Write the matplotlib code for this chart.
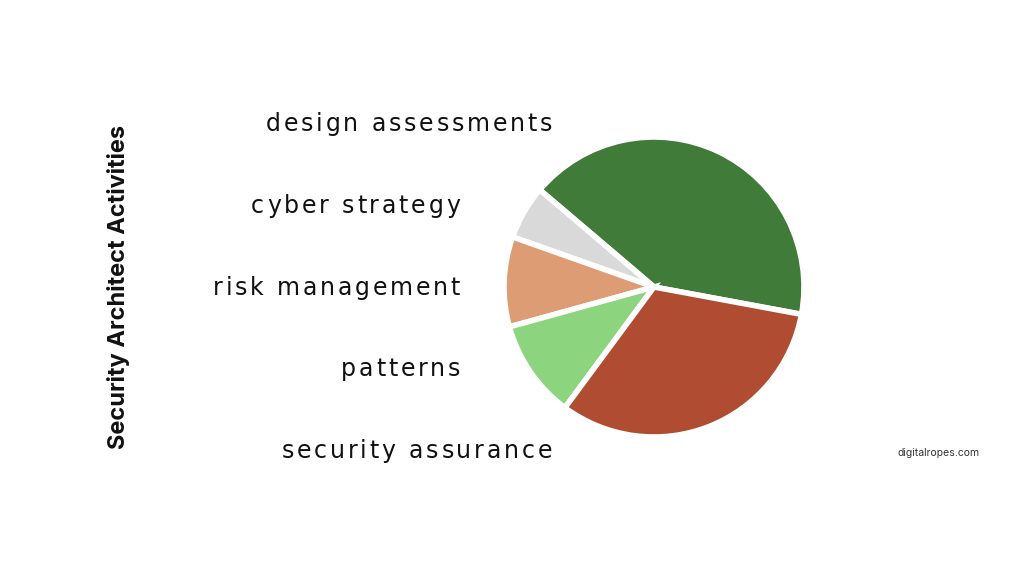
import matplotlib.pyplot as plt
from matplotlib.font_manager import FontProperties

# pie data, listed counterclockwise from the start angle
activities = ['design assessments', 'cyber strategy', 'risk management',
              'patterns', 'security assurance']
shares = [41.7, 5.8, 9.7, 10.6, 32.2]
colors = ['#417B3A', '#D9D9D9', '#DE9C74', '#8CD47E', '#B04C32']

fig = plt.figure(figsize=(10.24, 5.76), dpi=100)
fig.patch.set_facecolor('white')

ax = fig.add_axes([504 / 1024, (576 - 287 - 150) / 576, 300 / 1024, 300 / 576])
ax.pie(shares, colors=colors, startangle=-10.5, counterclock=True,
       wedgeprops={'edgecolor': 'white', 'linewidth': 4})
ax.set_xlim(-1.0, 1.0)
ax.set_ylim(-1.0, 1.0)
ax.set_aspect('equal')

renderer = fig.canvas.get_renderer()
prop = FontProperties(family='DejaVu Sans', size=17)


def text_w(s):
    # width in pixels, measured with a marker so trailing spaces count
    w1, _, _ = renderer.get_text_width_height_descent(s + '|', prop, ismath=False)
    w2, _, _ = renderer.get_text_width_height_descent('|', prop, ismath=False)
    return w1 - w2


def spaced_text(s, right_px, y_px, track=2.8):
    total = text_w(s) + track * (len(s) - 1)
    x0 = right_px - total
    for i, ch in enumerate(s):
        if ch == ' ':
            continue
        x = x0 + text_w(s[:i]) + track * i
        fig.text(x / 1024, 1 - y_px / 576, ch, ha='left', va='baseline',
                 fontproperties=prop, color='#111111')


# category labels on the left, right aligned
label_x = [552, 460, 460, 460, 552]
label_y = [131, 213, 295, 376, 458]
for name, x, y in zip(activities, label_x, label_y):
    spaced_text(name, x, y)

fig.text(118 / 1024, 1 - 287 / 576, 'Security Architect Activities',
         rotation=90, ha='center', va='center', fontsize=17,
         fontweight='bold', family='Inter', color='#111111')

fig.text(939 / 1024, 1 - 453 / 576, 'digitalropes.com', ha='center',
         va='center', fontsize=7.5, color='#333333', family='Inter')

fig.savefig('out.png', dpi=100)
